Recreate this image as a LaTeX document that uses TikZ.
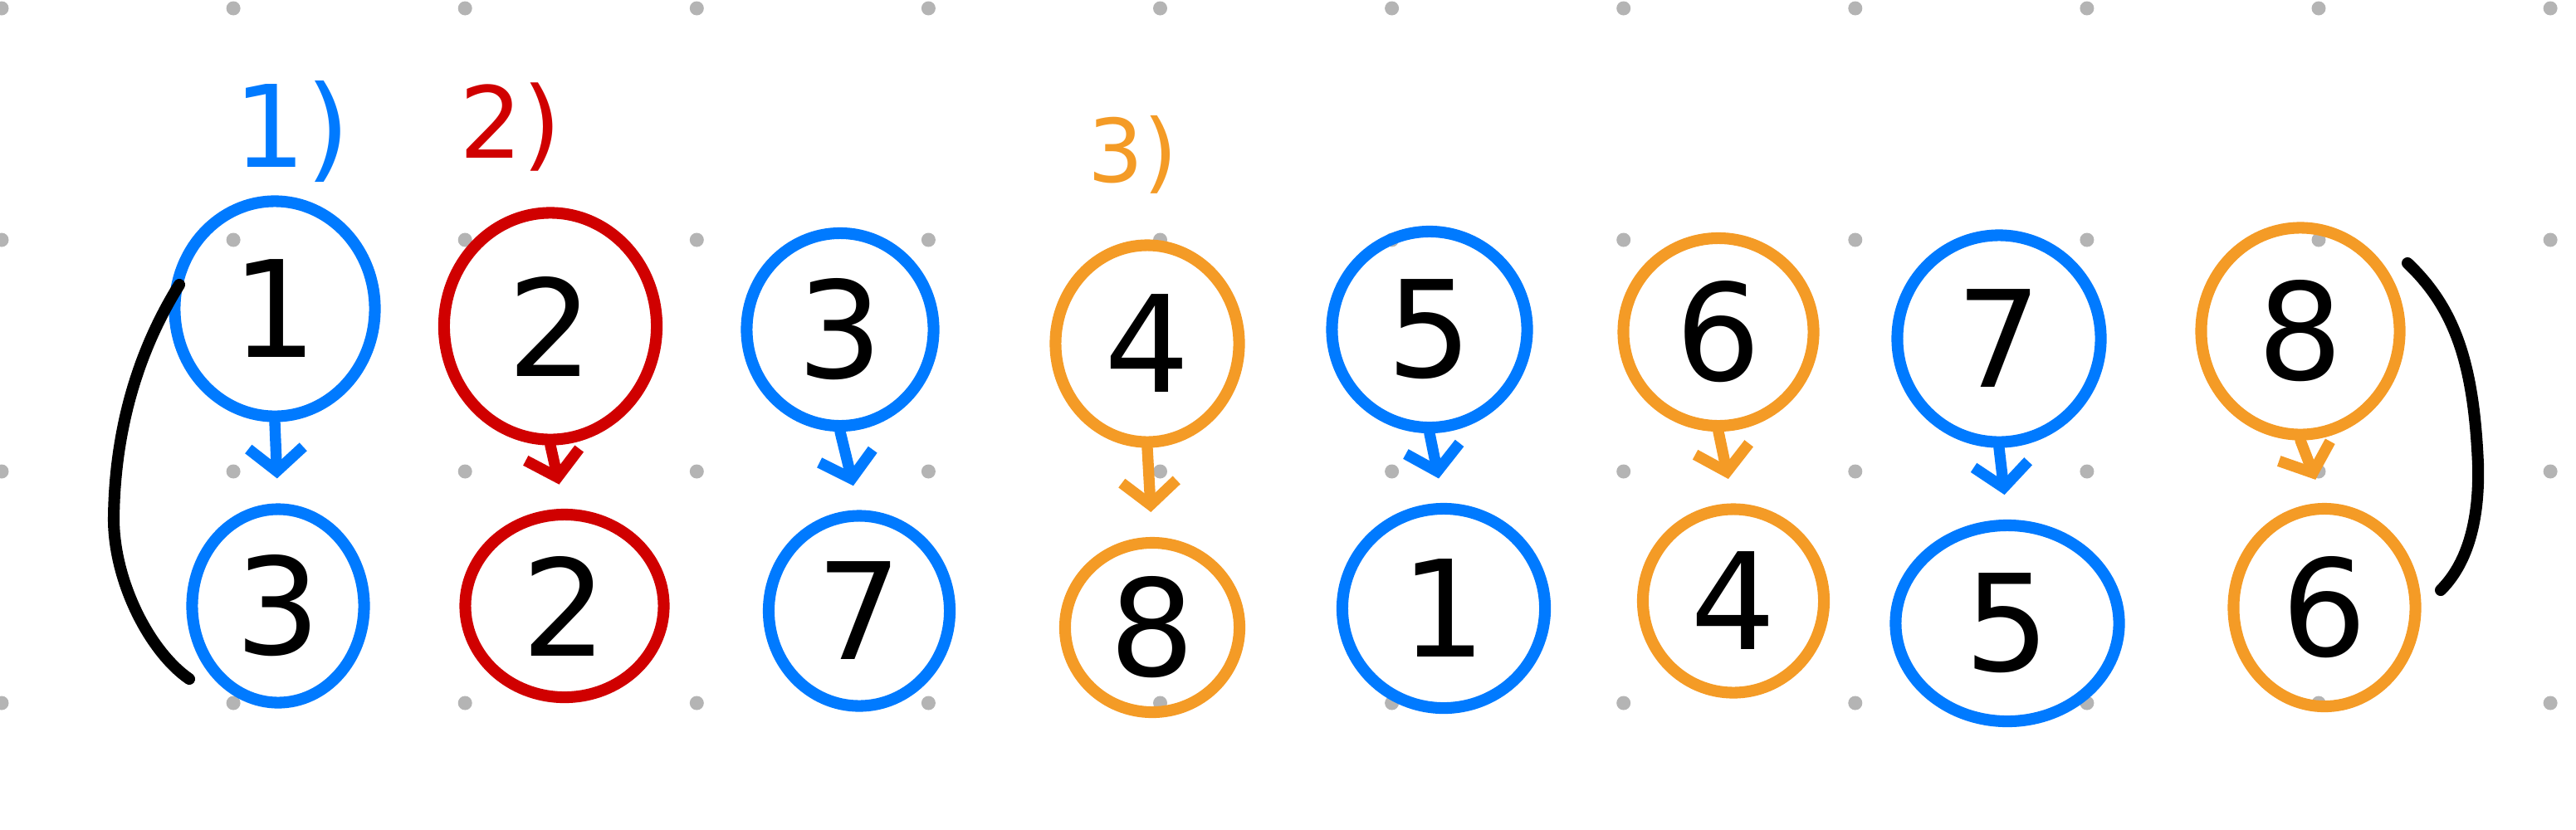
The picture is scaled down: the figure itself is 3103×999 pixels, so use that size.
\documentclass[tikz,border=0pt]{standalone}
\usepackage{fontspec}
\setmainfont{DejaVu Sans}
\usetikzlibrary{shapes.geometric,arrows.meta}
\definecolor{hblue}{RGB}{0,122,255}
\definecolor{hred}{RGB}{208,0,0}
\definecolor{horange}{RGB}{244,155,38}
\definecolor{dotgray}{RGB}{180,180,180}
\begin{document}
\begin{tikzpicture}[x=0.01cm,y=-0.01cm,
  ring/.style={ellipse, draw=#1, line width=4pt, inner sep=0pt, text=black,
    font=\fontsize{46}{50}\selectfont},
  arr/.style={draw=#1, line width=3.8pt, line cap=round, line join=round,
    -{Straight Barb[length=0.28cm,width=0.66cm,line width=3.8pt]}, shorten >=0.3cm},
  ink/.style={draw=black, line width=4pt, line cap=round},
  lab/.style={text=#1, inner sep=0pt}
]
\useasboundingbox (0,0) rectangle (3103,999);
% grid dots
\foreach \i in {0,...,11}
  \foreach \j in {0,...,3}
    \fill[dotgray] (2+\i*279.1, 10+\j*279) circle[radius=8.5];
% labels
\node[lab=hblue, font=\fontsize{39}{40}\selectfont] (l1) at (352,158) {1)};
\node[lab=hred, font=\fontsize{34}{36}\selectfont] (l2) at (615,153) {2)};
\node[lab=horange, font=\fontsize{30}{32}\selectfont] (l3) at (1365,186) {3)};
% top row
\node[ring=hblue,   minimum width=2.41cm, minimum height=2.59cm] (t1) at (331,372) {1};
\node[ring=hred,    minimum width=2.56cm, minimum height=2.73cm] (t2) at (663,393) {2};
\node[ring=hblue,   minimum width=2.25cm, minimum height=2.32cm] (t3) at (1012,397) {3};
\node[ring=horange, minimum width=2.21cm, minimum height=2.37cm] (t4) at (1382,414) {4};
\node[ring=hblue,   minimum width=2.35cm, minimum height=2.36cm] (t5) at (1722,397) {5};
\node[ring=horange, minimum width=2.29cm, minimum height=2.26cm] (t6) at (2070,400) {6};
\node[ring=hblue,   minimum width=2.45cm, minimum height=2.49cm] (t7) at (2408,408) {7};
\node[ring=horange, minimum width=2.39cm, minimum height=2.49cm] (t8) at (2771,399) {8};
% bottom row
\node[ring=hblue,   minimum width=2.07cm, minimum height=2.33cm] (b1) at (335,730) {3};
\node[ring=hred,    minimum width=2.39cm, minimum height=2.20cm] (b2) at (680,730) {2};
\node[ring=hblue,   minimum width=2.18cm, minimum height=2.29cm] (b3) at (1035,736) {7};
\node[ring=horange, minimum width=2.10cm, minimum height=2.04cm] (b4) at (1388,756) {8};
\node[ring=hblue,   minimum width=2.44cm, minimum height=2.40cm] (b5) at (1739,733) {1};
\node[ring=horange, minimum width=2.18cm, minimum height=2.21cm] (b6) at (2088,724) {4};
\node[ring=hblue,   minimum width=2.69cm, minimum height=2.36cm] (b7) at (2418,751) {5};
\node[ring=horange, minimum width=2.19cm, minimum height=2.38cm] (b8) at (2800,732) {6};
% arrows
\draw[arr=hblue]   (t1.south) -- (b1.north);
\draw[arr=hred]    (t2.south) -- (b2.north);
\draw[arr=hblue]   (t3.south) -- (b3.north);
\draw[arr=horange] (t4.south) -- (b4.north);
\draw[arr=hblue]   (t5.south) -- (b5.north);
\draw[arr=horange] (t6.south) -- (b6.north);
\draw[arr=hblue]   (t7.south) -- (b7.north);
\draw[arr=horange] (t8.south) -- (b8.north);
% black brackets
\coordinate (lA) at (216,343);
\coordinate (lM) at (137,625);
\coordinate (lB) at (228,818);
\draw[ink] (lA) .. controls (165,425) and (138,520) .. (lM) .. controls (137,700) and (180,785) .. (lB);
\coordinate (rA) at (2900,317);
\coordinate (rM) at (2985,560);
\coordinate (rB) at (2940,711);
\draw[ink] (rA) .. controls (2958,372) and (2980,440) .. (rM) .. controls (2987,640) and (2966,685) .. (rB);
\end{tikzpicture}
\end{document}
